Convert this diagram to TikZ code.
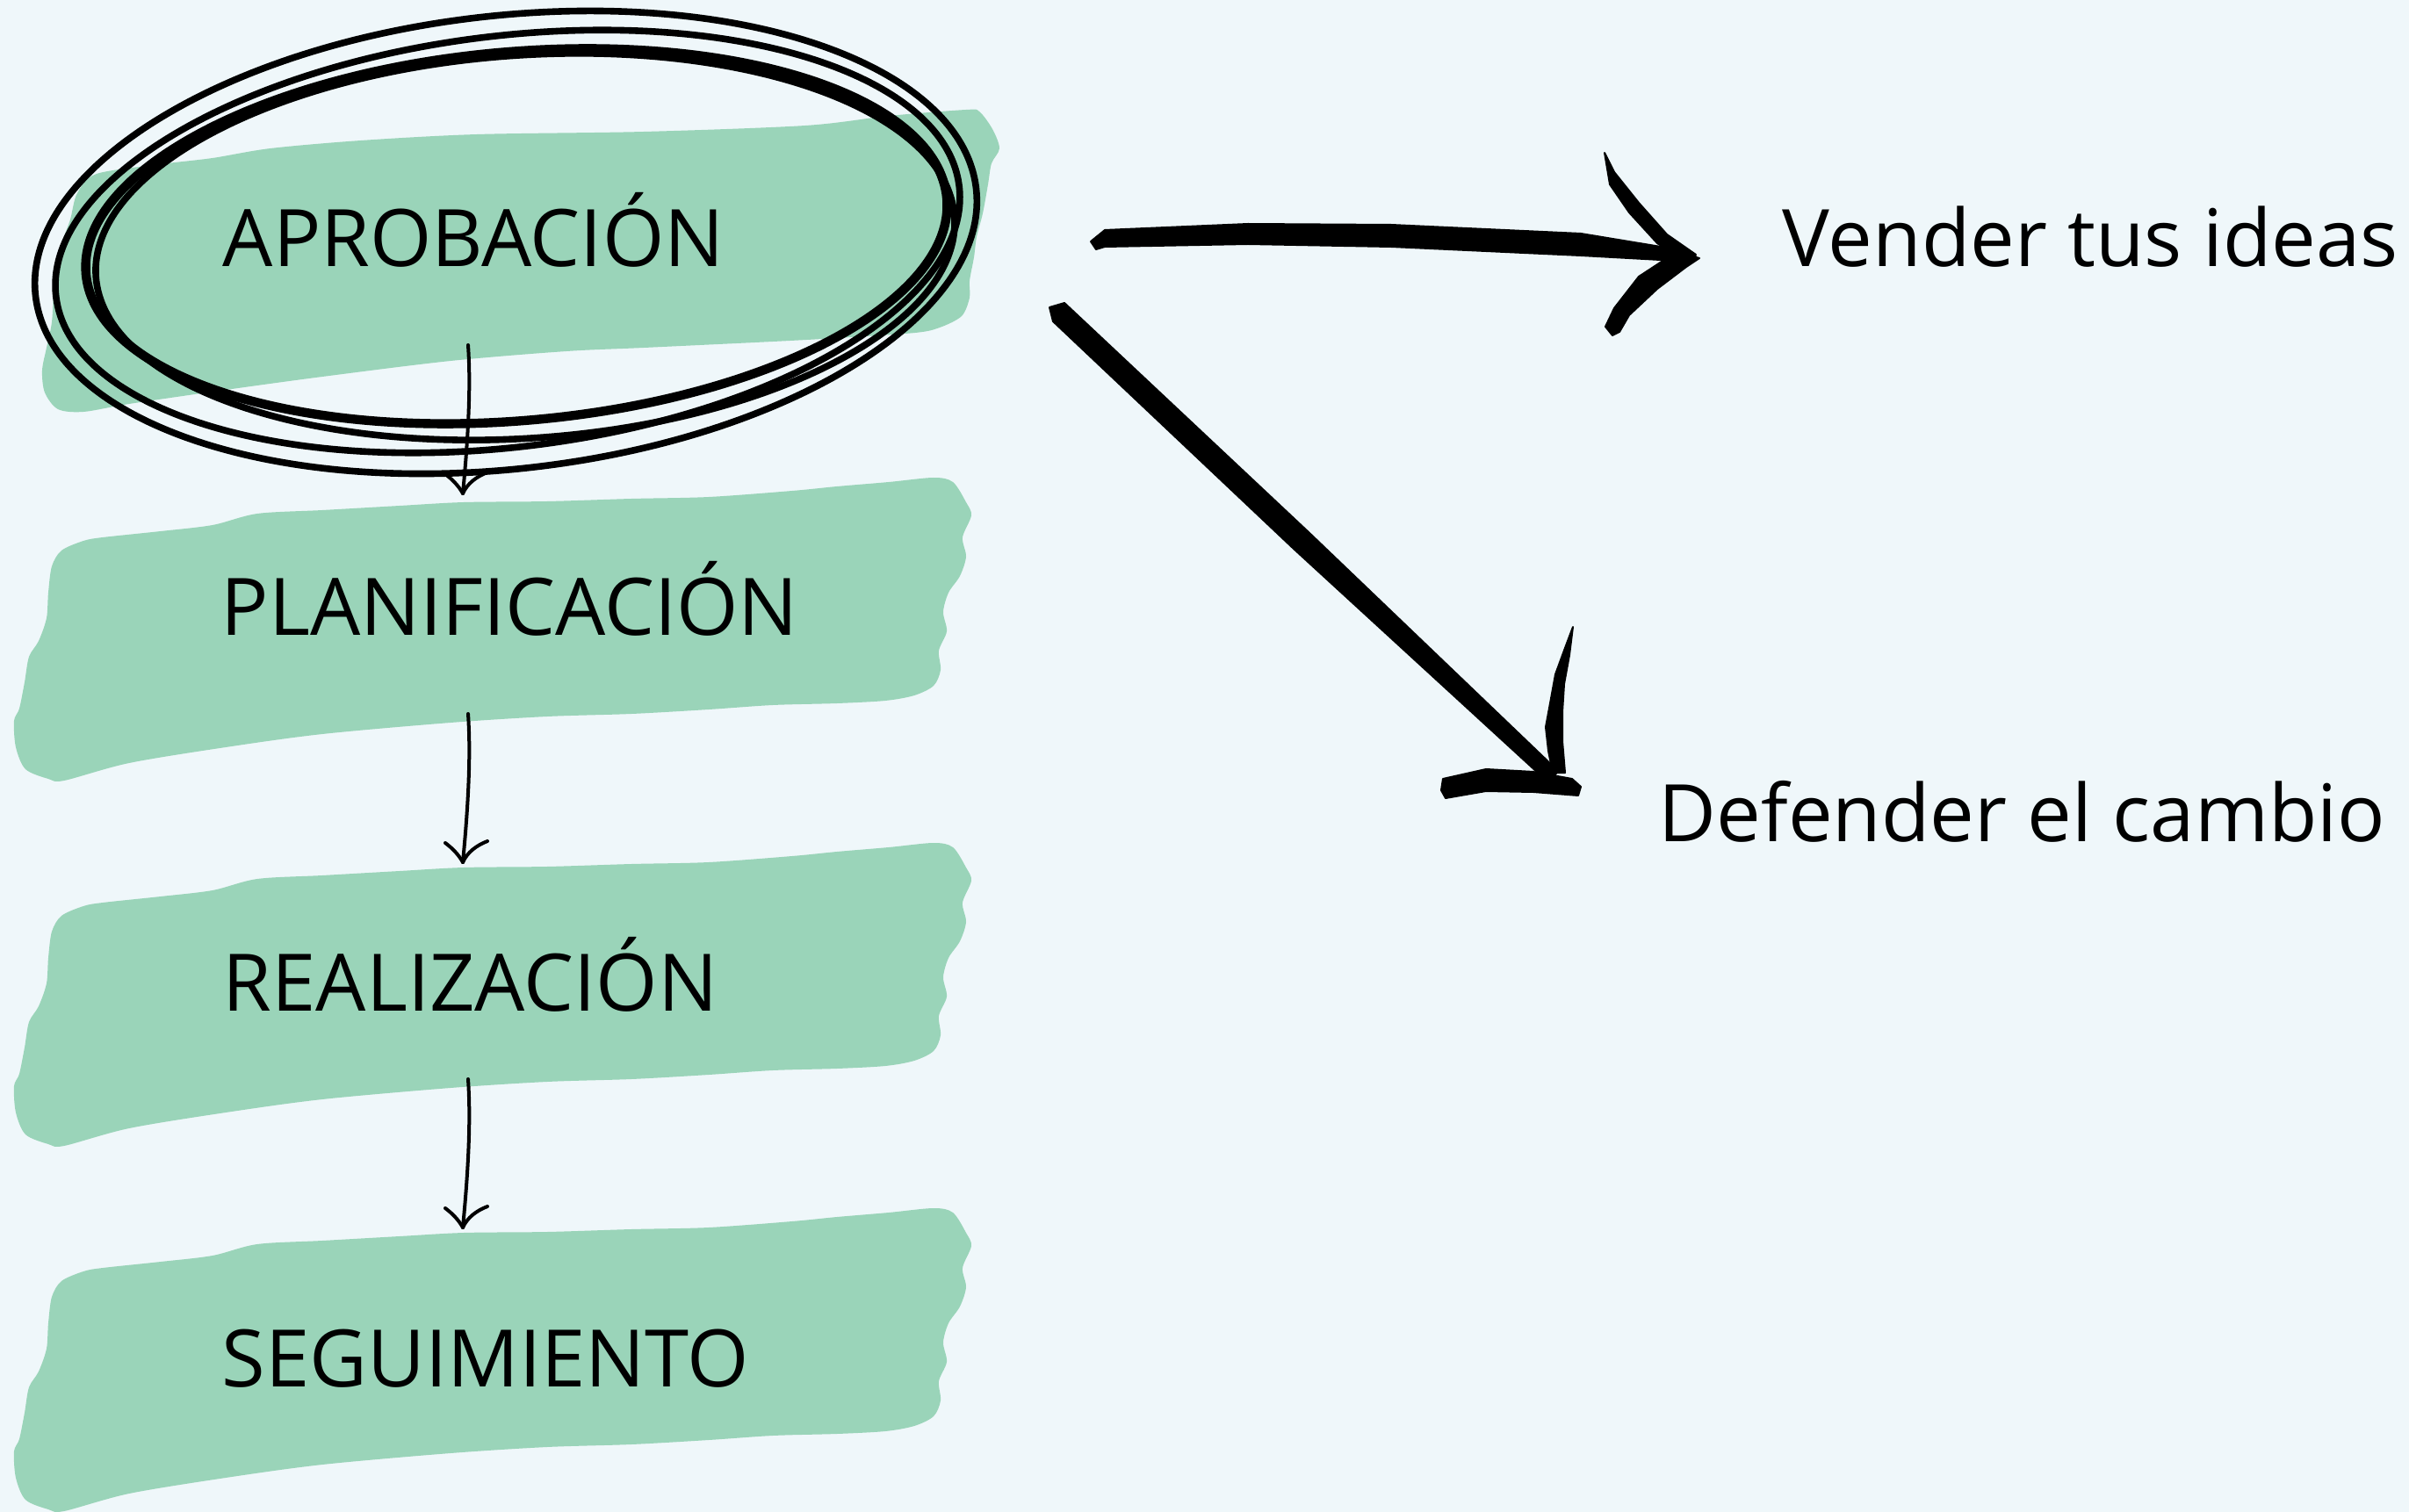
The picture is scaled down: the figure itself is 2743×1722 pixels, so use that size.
\documentclass[tikz,border=0pt]{standalone}
\usepackage{fontspec}
\setmainfont{Open Sans}
\definecolor{bg}{RGB}{239,247,250}
\definecolor{brush}{RGB}{154,212,185}
\tikzset{
  brushshape/.style={fill=brush, draw=none},
  lbl/.style={font=\fontsize{22.6pt}{27pt}\selectfont, inner sep=0pt, anchor=base west, text=black},
  loopline/.style={draw=black, line width=1.9pt},
  thinarrow/.style={draw=black, line width=1pt, line cap=round, line join=round},
  ink/.style={fill=black, draw=black, line width=0.5pt, line join=round},
}
\begin{document}
\begin{tikzpicture}[x=0.25pt,y=-0.25pt]
\fill[bg] (0,0) rectangle (2743,1722);
\useasboundingbox (0,0) rectangle (2743,1722);

% brush shape 1
\fill[brushshape] plot[smooth cycle, tension=0.5] coordinates {
(95,469) (66,466) (51,447) (48,422) (53,396) (59,367) (62,323) (70,279) (80,250) (88,220) (110,198) (183,187) (242,180) (308,169) (411,160) (543,153) (733,150) (917,143) (1012,132) (1100,125) (1115,127) (1130,147) (1138,169) (1129,186) (1125,210) (1119,243) (1112,270) (1109,293) (1104,320) (1104,339) (1095,360) (1070,373) (1042,379) (953,385) (880,389) (733,396) (645,400) (513,411) (367,429) (257,444) (147,460)};

% brush shapes 2-4
\foreach \dy in {0,416,832}{
\fill[brushshape, shift={(0,\dy)}] plot[smooth cycle, tension=0.5] coordinates {
(55,887) (29,876) (18,851) (16,821) (22,807) (28,777) (33,748) (44,730) (53,704) (55,675) (59,645) (70,627) (95,616) (117,612) (183,605) (242,598) (293,585) (367,581) (455,576) (528,572) (623,571) (719,568) (807,566) (902,559) (953,554) (1012,549) (1063,544) (1085,549) (1100,572) (1106,587) (1096,612) (1100,634) (1093,656) (1080,675) (1074,697) (1078,719) (1069,741) (1071,763) (1063,781) (1041,792) (1008,798) (953,801) (880,803) (807,808) (719,813) (623,816) (513,823) (367,836) (257,851) (147,869) (73,889)};
}

% labels
\node[lbl] (t1) at (253,304) {APROBACIÓN};
\node[lbl] (t2) at (251,724) {PLANIFICACIÓN};
\node[lbl] (t3) at (253,1151) {REALIZACIÓN};
\node[lbl] (t4) at (252,1579) {SEGUIMIENTO};
\node[lbl] (v) at (2029,304) {Vender tus ideas};
\node[lbl] (d) at (1888,958) {Defender el cambio};

% scribbled ellipses
\draw[loopline, line width=2.6pt, rotate around={5:(588,269)}] (588,269) ellipse [x radius=492, y radius=210];
\draw[loopline, rotate around={4:(598,281)}] (598,281) ellipse [x radius=490, y radius=218];
\draw[loopline, rotate around={7:(578,275)}] (578,275) ellipse [x radius=518, y radius=234];
\draw[loopline, rotate around={6.5:(576,276)}] (576,276) ellipse [x radius=539, y radius=258];

% thin arrows between steps
\foreach \dy [count=\i] in {0,420,836}{
  \coordinate (s\i) at (533,393+\dy);
  \coordinate (e\i) at (527,562+\dy);
  \coordinate (l\i) at (507,540+\dy);
  \coordinate (r\i) at (555,538+\dy);
  \draw[thinarrow] (s\i) .. controls (537,450+\dy) and (531,520+\dy) .. (e\i);
  \draw[thinarrow] (l\i) .. controls (515,546+\dy) and (522,553+\dy) .. (e\i);
  \draw[thinarrow] (r\i) .. controls (542,543+\dy) and (532,551+\dy) .. (e\i);
}

% big horizontal brush arrow
\fill[ink] (1242,275) -- (1258,262) -- (1421,255) -- (1584,256) -- (1800,266) -- (1909,284) -- (1931,292) -- (1909,297) -- (1800,291) -- (1584,281) -- (1421,278) -- (1258,281) -- (1248,284) -- cycle;
\fill[ink] (1827,174) -- (1833,210) -- (1855,242) -- (1887,277) -- (1909,292) -- (1931,290) -- (1898,267) -- (1866,231) -- (1838,196) -- cycle;
\fill[ink] (1935,294) -- (1920,304) -- (1887,329) -- (1855,359) -- (1844,378) -- (1836,382) -- (1828,372) -- (1838,351) -- (1866,315) -- (1898,294) -- (1920,290) -- cycle;

% big diagonal brush arrow
\fill[ink] (1195,350) -- (1212,345) -- (1491,607) -- (1774,878) -- (1764,892) -- (1473,625) -- (1199,366) -- cycle;
\fill[ink] (1791,714) -- (1782,738) -- (1771,768) -- (1765,801) -- (1760,828) -- (1763,855) -- (1768,880) -- (1782,880) -- (1779,844) -- (1779,811) -- (1781,779) -- (1787,746) -- cycle;
\fill[ink] (1790,887) -- (1746,879) -- (1692,876) -- (1643,887) -- (1641,900) -- (1646,909) -- (1692,901) -- (1746,902) -- (1797,906) -- (1800,896) -- cycle;
\end{tikzpicture}
\end{document}
